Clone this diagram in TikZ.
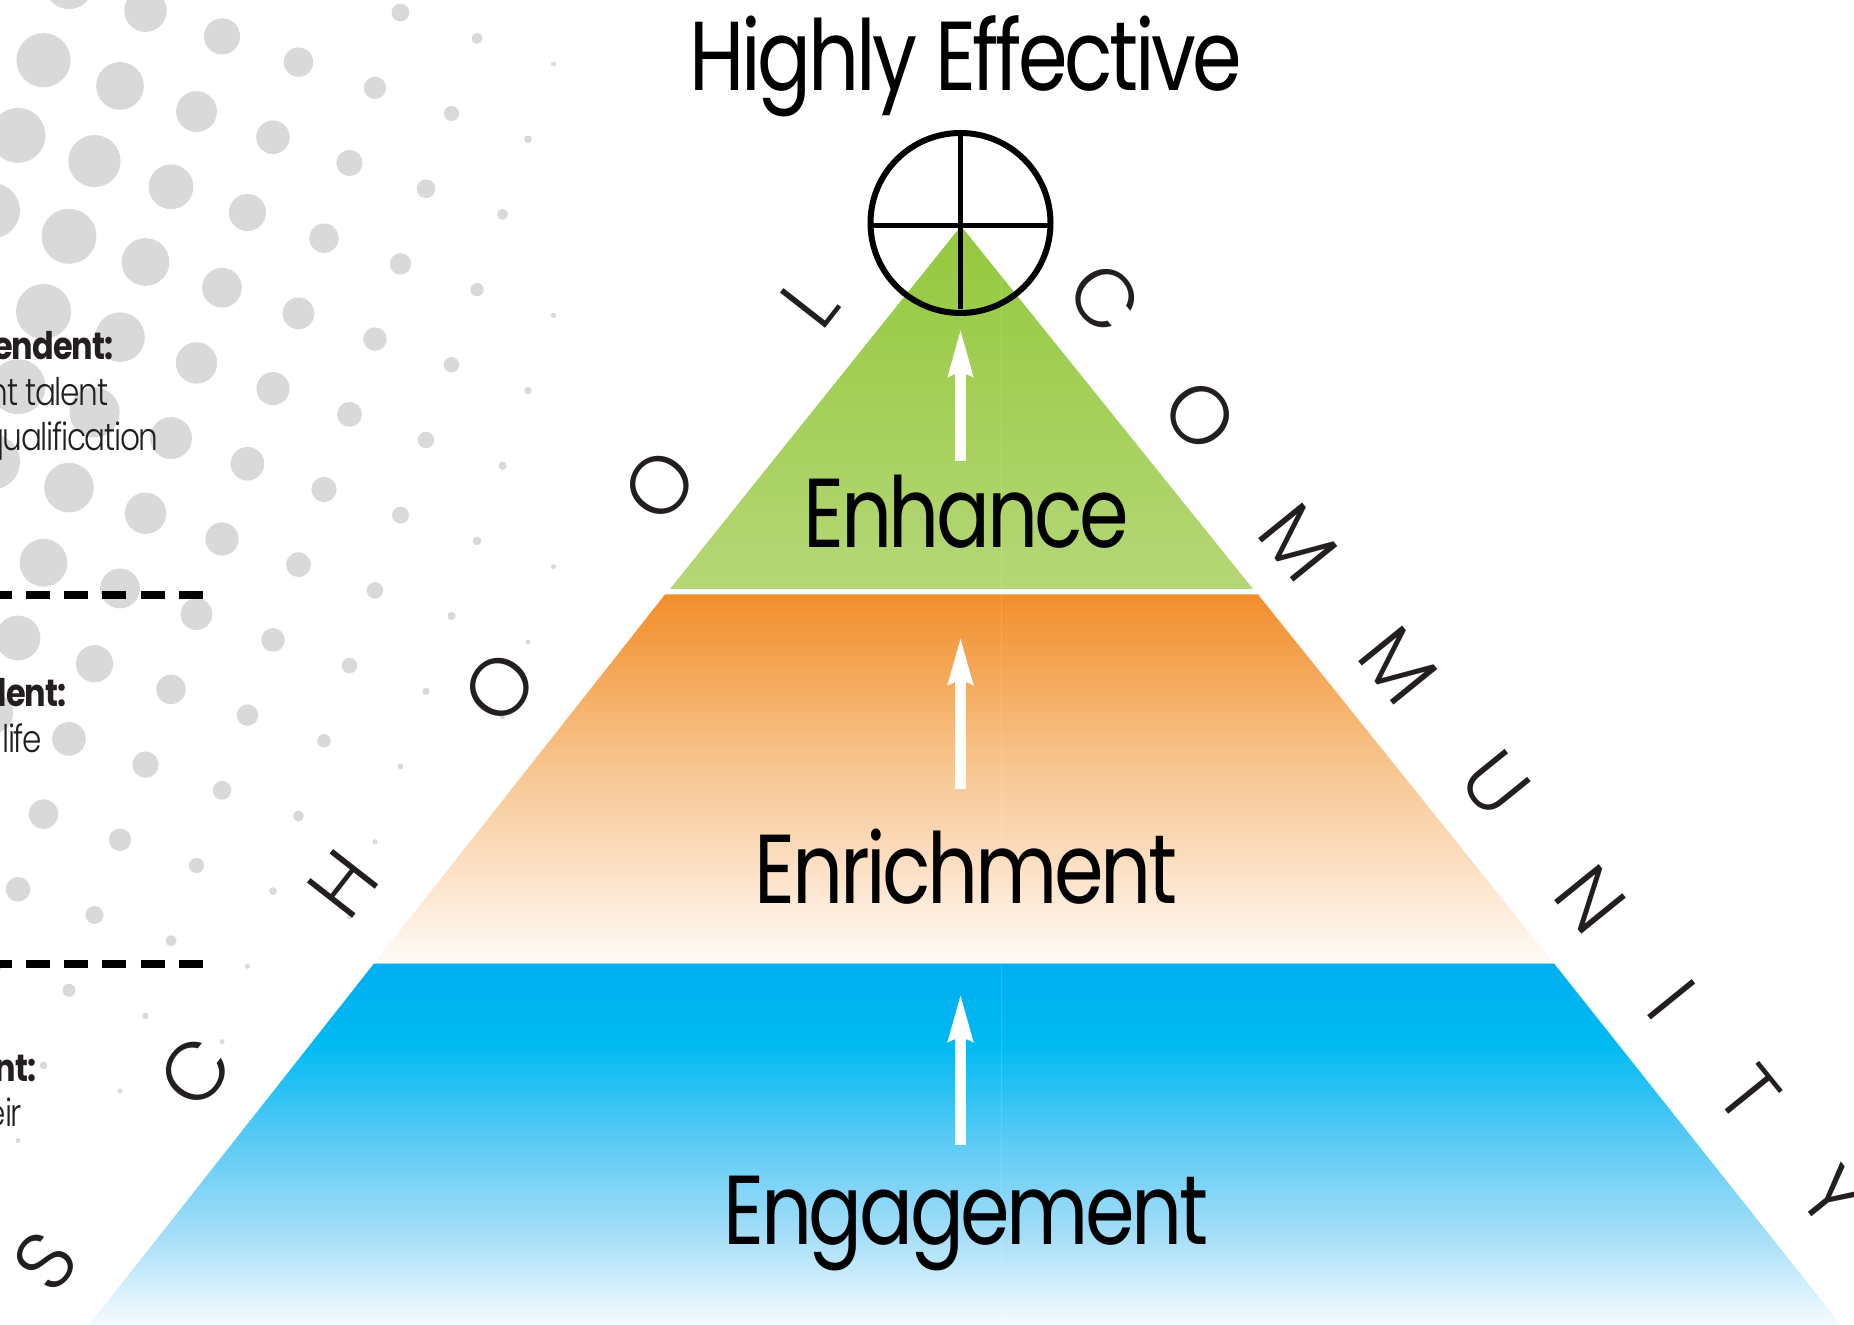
\documentclass[tikz,border=0pt]{standalone}
\usepackage{fontspec}
\usetikzlibrary{arrows.meta}
\setmainfont[FakeStretch=0.84,LetterSpace=-2.5]{Poppins}
\newfontfamily\plight[FakeStretch=0.82,LetterSpace=-3.5]{Poppins Light}
\newfontfamily\ptier[FakeStretch=0.815,LetterSpace=-3.5]{Poppins}
\newfontfamily\prim{Poppins Light}
\definecolor{ink}{HTML}{231F20}
\definecolor{dotgrey}{HTML}{D9D9D9}
\definecolor{bA}{HTML}{00AEEF}\definecolor{bB}{HTML}{00BAF2}\definecolor{bBB}{HTML}{2AC2F4}\definecolor{bC}{HTML}{55C9F5}\definecolor{bD}{HTML}{A5DEF8}\definecolor{bE}{HTML}{F5FBFE}
\definecolor{oA}{HTML}{F28E2B}\definecolor{oB}{HTML}{F5AC60}\definecolor{oC}{HTML}{F8C997}\definecolor{oD}{HTML}{FCE1C6}\definecolor{oE}{HTML}{FEFBF7}
\definecolor{gA}{HTML}{94C83D}\definecolor{gE}{HTML}{B5D777}
\pgfdeclareverticalshading{blueramp}{100bp}{color(0bp)=(bE);color(25bp)=(bE);color(37.5bp)=(bD);color(51.5bp)=(bC);color(57.5bp)=(bBB);color(64bp)=(bB);color(75bp)=(bA);color(100bp)=(bA)}
\pgfdeclareverticalshading{orangeramp}{100bp}{color(0bp)=(oE);color(25bp)=(oE);color(37.5bp)=(oD);color(50bp)=(oC);color(62.5bp)=(oB);color(75bp)=(oA);color(100bp)=(oA)}
\pgfdeclareverticalshading{greenramp}{100bp}{color(0bp)=(gE);color(25bp)=(gE);color(75bp)=(gA);color(100bp)=(gA)}
\tikzset{
  x=0.5pt,y=-0.5pt,
  tier/.style={font=\ptier\fontsize{49}{51}\selectfont,text=black,anchor=base,inner sep=0pt},
  rim/.style={font=\prim\fontsize{41}{44}\selectfont,text=ink,inner sep=0pt,anchor=center},
  lrim/.style={rim,rotate=52},
  rrim/.style={rim,rotate=-51},
  headtext/.style={font=\bfseries\fontsize{19}{22}\selectfont,text=ink,anchor=base east,inner sep=0pt},
  bodytext/.style={font=\plight\fontsize{19}{22}\selectfont,text=ink,anchor=base east,inner sep=0pt},
  uparrow/.style={draw=white,line width=5.25pt,-{Stealth[length=23.5pt,width=11.5pt,inset=2pt]}},
  cutline/.style={draw=black,line width=4pt,dash pattern=on 12pt off 7.15pt},
  seam/.style={draw=white,opacity=0.14,line width=0.6pt},
}
\begin{document}
\begin{tikzpicture}
\useasboundingbox (0,0) rectangle (1854,1325);
% halftone dots
\foreach \k in {0,...,22}{
  \foreach \m in {-7,...,5}{
    \pgfmathsetmacro\px{553.5-25.5*\k}
    \pgfmathsetmacro\py{64+75.2*\k+251.3*\m}
    \pgfmathsetmacro\dd{veclen(\px+386,\py-250)}
    \pgfmathsetmacro\rr{max(2.5,min(27.5,20.4-0.0515*(\dd-599)))}
    \pgfmathtruncatemacro\ok{and(\dd<1005,and(\py>-40,\py<1200))}
    \ifnum\ok=1
      \fill[dotgrey] (\px,\py) circle[radius=\rr];
    \fi
  }
}
% pyramid
\shade[shading=blueramp] (374,963.5) -- (1554,963.5) -- (1841,1325) -- (89,1325) -- cycle;
\shade[shading=orangeramp] (665,594.5) -- (1258,594.5) -- (1554,963.5) -- (374,963.5) -- cycle;
\shade[shading=greenramp] (961,226) -- (1253,589) -- (670,589) -- cycle;
\coordinate (sa) at (1001.5,276); \coordinate (sb) at (1001.5,589);
\coordinate (sc) at (1001.5,594.5); \coordinate (sd) at (1001.5,963.5);
\coordinate (se) at (1001.5,1325);
\draw[seam] (sa) -- (sb);
\draw[seam] (sc) -- (sd);
\draw[seam] (sd) -- (se);
% cut lines
\coordinate (cutaR) at (203,595); \coordinate (cutaL) at (0,595);
\coordinate (cutbR) at (203,964); \coordinate (cutbL) at (0,964);
\draw[cutline] (cutaR) -- (cutaL);
\draw[cutline] (cutbR) -- (cutbL);
% target
\coordinate (tc) at (960.5,223);
\coordinate (tT) at (960.5,133); \coordinate (tB) at (960.5,309);
\coordinate (tL) at (870.5,226); \coordinate (tR) at (1050.5,226);
\draw[black,line width=3pt] (tc) circle[radius=90];
\draw[black,line width=2.5pt] (tT) -- (tB);
\draw[black,line width=2.5pt] (tL) -- (tR);
% arrows
\coordinate (a1s) at (960.5,461); \coordinate (a1e) at (960.5,328);
\coordinate (a2s) at (960.5,789); \coordinate (a2e) at (960.5,636);
\coordinate (a3s) at (960.5,1145); \coordinate (a3e) at (960.5,993);
\draw[uparrow] (a1s) -- (a1e);
\draw[uparrow] (a2s) -- (a2e);
\draw[uparrow] (a3s) -- (a3e);
% titles
\node[tier] (title) at (966,90.5) {Highly Effective};
\node[tier] (enh) at (966.5,547.5) {Enhance};
\node[tier] (enr) at (966,904) {Enrichment};
\node[tier] (eng) at (966,1244) {Engagement};
% rim letters
\node[lrim] (s1) at (45,1261) {S};
\node[lrim] (s2) at (195.5,1072) {C};
\node[lrim] (s3) at (343.5,884) {H};
\node[lrim] (s4) at (499.5,687) {O};
\node[lrim] (s5) at (659.5,485) {O};
\node[lrim] (s6) at (810,302) {L};
\node[rrim] (c1) at (1104.5,298) {C};
\node[rrim] (c2) at (1199.7,416) {O};
\node[rrim] (c3) at (1298.5,543) {M};
\node[rrim] (c4) at (1398.5,666) {M};
\node[rrim] (c5) at (1496,784) {U};
\node[rrim] (c6) at (1590,899) {N};
\node[rrim] (c7) at (1672,1000) {I};
\node[rrim] (c8) at (1749,1094) {T};
\node[rrim] (c9) at (1832,1196) {Y};
% cropped side text
\node[headtext] (h1) at (114,360) {endent:};
\node[bodytext] (b1a) at (108.5,405.5) {nt talent};
\node[bodytext] (b1b) at (159,450.5) {qualification};
\node[headtext] (h2) at (67,707) {lent:};
\node[bodytext] (b2) at (42.5,752.5) {life};
\node[headtext] (h3) at (37,1081.5) {nt:};
\node[bodytext] (b3) at (22.5,1126) {eir};
\end{tikzpicture}
\end{document}
